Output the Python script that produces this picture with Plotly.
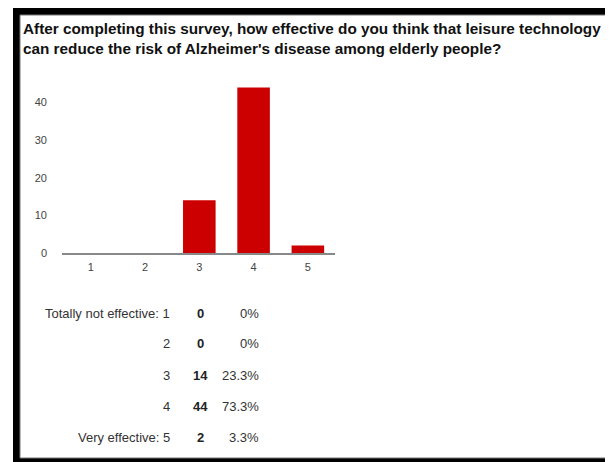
import plotly.graph_objects as go

categories = [1, 2, 3, 4, 5]
counts = [0, 0, 14, 44, 2]
percents = ["0%", "0%", "23.3%", "73.3%", "3.3%"]
row_labels = ["Totally not effective: 1", "2", "3", "4", "Very effective: 5"]
y_ticks = [0, 10, 20, 30, 40]
title_text = ("After completing this survey, how effective do you think that leisure technology<br>"
              "can reduce the risk of Alzheimer's disease among elderly people?")

# the page places the figure 8 px in from the top-left corner
OX, OY = 8, 8
W, H = 613 - OX, 462 - OY
FONT = "Liberation Sans, Arial, sans-serif"

def px(x):
    return (x - OX) / W

def py(y):
    return 1 - (y - OY) / H

fig = go.Figure()
fig.add_trace(go.Bar(
    x=categories, y=counts, width=0.6,
    marker=dict(color="#cc0000", line=dict(width=0)),
    hoverinfo="skip",
))

shapes = [
    dict(type="rect", xref="paper", yref="paper", x0=px(13), x1=1, y0=0, y1=py(7),
         fillcolor="black", line=dict(width=0), layer="below"),
    dict(type="rect", xref="paper", yref="paper", x0=px(20), x1=px(607), y0=py(458), y1=py(15),
         fillcolor="white", line=dict(color="#777777", width=1), layer="below"),
]

annotations = [
    dict(text="<b>" + title_text + "</b>", xref="paper", yref="paper", x=px(21), y=py(18),
         xanchor="left", yanchor="top", align="left", showarrow=False,
         font=dict(family=FONT, size=15.3, color="#111111")),
]

row_y = [313, 343, 375, 406, 437]
for lab, c, p, ry in zip(row_labels, counts, percents, row_y):
    annotations.append(dict(text=lab, xref="paper", yref="paper", x=px(172), y=py(ry),
                            xanchor="right", yanchor="middle", showarrow=False,
                            font=dict(family=FONT, size=13, color="#333333")))
    annotations.append(dict(text="<b>" + str(c) + "</b>", xref="paper", yref="paper", x=px(200), y=py(ry),
                            xanchor="center", yanchor="middle", showarrow=False,
                            font=dict(family=FONT, size=13, color="#222222")))
    annotations.append(dict(text=p, xref="paper", yref="paper", x=px(261), y=py(ry),
                            xanchor="right", yanchor="middle", showarrow=False,
                            font=dict(family=FONT, size=13, color="#333333")))

fig.update_layout(
    width=W, height=H,
    margin=dict(l=0, r=0, t=0, b=0),
    paper_bgcolor="white", plot_bgcolor="white",
    showlegend=False,
    shapes=shapes,
    annotations=annotations,
    xaxis=dict(domain=[px(62), px(335)], range=[0.47, 5.5], tickvals=categories,
               ticktext=[str(c) for c in categories], showgrid=False, zeroline=False,
               showline=True, linecolor="#888888", linewidth=2, ticks="",
               ticklabelstandoff=3, automargin=False,
               tickfont=dict(family=FONT, size=11, color="#444444"), fixedrange=True),
    yaxis=dict(domain=[py(253), py(80)], range=[0, 46], tickvals=y_ticks,
               showgrid=False, zeroline=False, showline=False, ticks="",
               ticklabelstandoff=14, automargin=False,
               tickfont=dict(family=FONT, size=11, color="#444444"), fixedrange=True),
)

fig.write_html("out.html")
